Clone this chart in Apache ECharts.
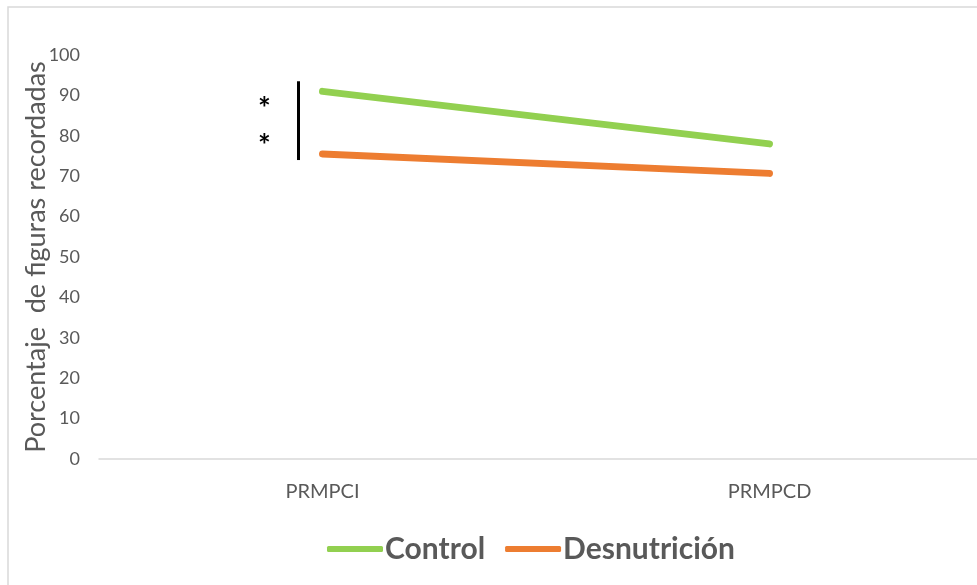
<!DOCTYPE html>
<html>
<head>
<meta charset="utf-8">
<script src="https://cdn.jsdelivr.net/npm/echarts@6/dist/echarts.min.js"></script>
<style>
  html, body { margin: 0; padding: 0; background: #fff; overflow: hidden; }
  #chart { width: 1000px; height: 585px; }
</style>
</head>
<body>
<div id="chart"></div>
<script>
// Categories and series values
const categories = ['PRMPCI', 'PRMPCD'];
const controlValues = [91, 78];
const desnutricionValues = [75.5, 70.7];
const yTicks = { min: 0, max: 100, interval: 10 };
// Significance bracket on the first category (value range) and star levels
const bracketRange = [93.5, 74];
const starLevels = [86.5, 77.5];

const FONT = 'Lato, "Open Sans", sans-serif';
const GREY = '#595959';

const chart = echarts.init(document.getElementById('chart'), null, { renderer: 'canvas' });

const option = {
  backgroundColor: '#ffffff',
  animation: false,
  // plot area runs past the right edge of the visible page
  grid: { left: 99, top: 55, width: 894, height: 404, containLabel: false },
  legend: {
    bottom: 16,
    left: 322,
    itemWidth: 56,
    itemHeight: 6,
    itemGap: 20,
    icon: 'roundRect',
    textStyle: { fontFamily: FONT, fontSize: 30, fontWeight: 'bold', color: GREY, padding: [0, 0, 0, -3] },
    data: ['Control', 'Desnutrición']
  },
  xAxis: {
    type: 'category',
    data: categories,
    boundaryGap: true,
    axisLine: { lineStyle: { color: '#d9d9d9', width: 1.5 } },
    axisTick: { show: false },
    axisLabel: { fontFamily: FONT, fontSize: 20, color: GREY, margin: 23 }
  },
  yAxis: {
    type: 'value',
    min: yTicks.min,
    max: yTicks.max,
    interval: yTicks.interval,
    name: 'Porcentaje  de figuras recordadas',
    nameLocation: 'middle',
    nameGap: 49,
    nameMoveOverlap: false,
    nameTextStyle: { fontFamily: FONT, fontSize: 27, color: GREY },
    axisLine: { show: false },
    axisTick: { show: false },
    splitLine: { show: false },
    axisLabel: { fontFamily: FONT, fontSize: 18, color: GREY, margin: 19 }
  },
  series: [
    {
      name: 'Control',
      type: 'line',
      data: controlValues,
      symbol: 'none',
      itemStyle: { color: '#92d050' },
      lineStyle: { color: '#92d050', width: 7, cap: 'round' }
    },
    {
      name: 'Desnutrición',
      type: 'line',
      data: desnutricionValues,
      symbol: 'none',
      itemStyle: { color: '#ed7d31' },
      lineStyle: { color: '#ed7d31', width: 7, cap: 'round' }
    }
  ]
};

chart.setOption(option);

// Outer frame plus the significance bracket and stars placed via the axes
const x0 = chart.convertToPixel({ xAxisIndex: 0 }, categories[0]);
const yTop = chart.convertToPixel({ yAxisIndex: 0 }, bracketRange[0]);
const yBot = chart.convertToPixel({ yAxisIndex: 0 }, bracketRange[1]);
const barX = x0 - 24;
const starX = x0 - 58;

const graphics = [
  {
    type: 'rect',
    shape: { x: 8, y: 7, width: 1200, height: 800 },
    style: { fill: 'none', stroke: '#d9d9d9', lineWidth: 1.5 },
    silent: true
  },
  {
    type: 'line',
    shape: { x1: barX, y1: yTop, x2: barX, y2: yBot },
    style: { stroke: '#000000', lineWidth: 3 }
  }
];
starLevels.forEach(function (v) {
  graphics.push({
    type: 'text',
    x: starX,
    y: chart.convertToPixel({ yAxisIndex: 0 }, v),
    style: {
      text: '*',
      fontFamily: FONT,
      fontSize: 30,
      fontWeight: 'bold',
      fill: '#000000',
      align: 'center',
      verticalAlign: 'middle'
    }
  });
});

chart.setOption({ graphic: graphics });
</script>
</body>
</html>
